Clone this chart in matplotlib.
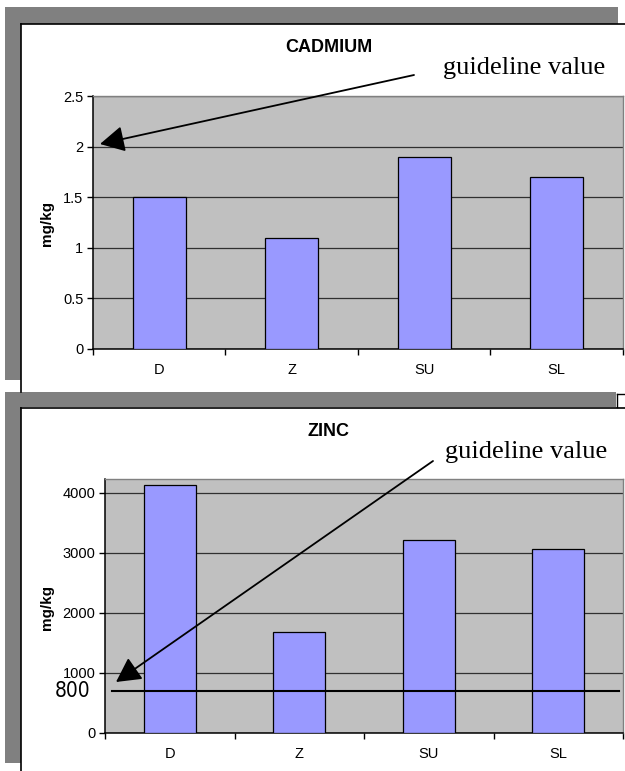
import matplotlib
matplotlib.use("Agg")
import matplotlib.pyplot as plt
from matplotlib.patches import Rectangle, FancyArrowPatch
from matplotlib.lines import Line2D

# ---- data ----
categories = ["D", "Z", "SU", "SL"]
cadmium = [1.5, 1.1, 1.9, 1.7]
zinc = [4130, 1680, 3210, 3060]
cad_yticks = [0, 0.5, 1, 1.5, 2, 2.5]
cad_ytick_labels = ["0", "0.5", "1", "1.5", "2", "2.5"]
zinc_yticks = [0, 1000, 2000, 3000, 4000]
zinc_ytick_labels = ["0", "1000", "2000", "3000", "4000"]
zinc_guideline_drawn = 700
zinc_guideline_label = "800"

W, H = 625, 771
fig = plt.figure(figsize=(W / 100, H / 100), dpi=100)
fig.patch.set_facecolor("white")

SANS = ["Liberation Sans", "DejaVu Sans"]
SERIF = ["Liberation Serif", "DejaVu Serif"]


def fx(x):
    return x / W


def fy(y):
    return 1 - y / H


def rect(x0, y0, x1, y1, color):
    fig.add_artist(Rectangle((fx(x0), fy(y1)), (x1 - x0) / W, (y1 - y0) / H,
                             transform=fig.transFigure, facecolor=color,
                             edgecolor="none", zorder=0))


def line(x0, y0, x1, y1, color="black", lw=1.2):
    fig.add_artist(Line2D([fx(x0), fx(x1)], [fy(y0), fy(y1)],
                          transform=fig.transFigure, color=color, lw=lw, zorder=1))


def axes_px(x0, y0, x1, y1):
    return fig.add_axes([fx(x0), fy(y1), (x1 - x0) / W, (y1 - y0) / H])


GRAY = "#808080"
# top frame
rect(5, 7, 618, 24, GRAY)
rect(5, 7, 21, 380, GRAY)
line(21, 24, 625, 24)
line(21, 24, 21, 392)
# bottom frame
rect(5, 392, 616, 407, GRAY)
rect(5, 392, 21, 763, GRAY)
line(21, 408, 625, 408)
line(21, 408, 21, 771)
line(617, 394, 625, 394, lw=1)
line(617, 394, 617, 407, lw=1)


def style_axes(ax, ymax, yticks, ylabels):
    ax.set_facecolor("#C0C0C0")
    ax.set_xlim(-0.5, 3.5)
    ax.set_ylim(0, ymax)
    ax.set_yticks(yticks)
    ax.set_yticklabels(ylabels, fontfamily=SANS, fontsize=10.5)
    ax.set_xticks([-0.5, 0.5, 1.5, 2.5, 3.5])
    ax.set_xticklabels([])
    ax.set_xticks(range(len(categories)), minor=True)
    ax.set_xticklabels(categories, minor=True, fontfamily=SANS, fontsize=10.5)
    ax.tick_params(axis="y", direction="out", length=4, width=1, pad=3, color="black")
    ax.tick_params(axis="x", which="major", direction="out", length=4, width=1, color="black")
    ax.tick_params(axis="x", which="minor", length=0, pad=10)
    ax.yaxis.grid(True, color="#303030", lw=0.9)
    ax.set_axisbelow(True)
    for s in ["left", "bottom"]:
        ax.spines[s].set_color("black")
        ax.spines[s].set_linewidth(1.1)
    for s in ["top", "right"]:
        ax.spines[s].set_color(GRAY)
        ax.spines[s].set_linewidth(1)


ARROW = "-|>,head_length=15,head_width=8"

# ---- CADMIUM ----
ax1 = axes_px(93, 96, 623, 349)
style_axes(ax1, 2.5, cad_yticks, cad_ytick_labels)
ax1.bar(range(len(categories)), cadmium, width=0.4, color="#9999FF",
        edgecolor="black", lw=0.9, zorder=3)
fig.text(fx(329), fy(48), "CADMIUM", fontfamily=SANS, fontweight="bold",
         fontsize=13, ha="center", va="center")
fig.text(fx(47), fy(223), "mg/kg", fontfamily=SANS, fontweight="bold",
         fontsize=11, rotation=90, ha="center", va="center")
fig.text(fx(524), fy(68), "guideline value", fontfamily=SERIF, fontsize=19,
         ha="center", va="center")
fig.add_artist(FancyArrowPatch((fx(414), fy(75)), (fx(100), fy(144)),
                               transform=fig.transFigure, arrowstyle=ARROW,
                               mutation_scale=1, color="black", lw=1.3,
                               shrinkA=0, shrinkB=0, zorder=10))

# ---- ZINC ----
ax2 = axes_px(105, 479, 623, 733)
style_axes(ax2, 4230, zinc_yticks, zinc_ytick_labels)
ax2.bar(range(len(categories)), zinc, width=0.4, color="#9999FF",
        edgecolor="black", lw=0.9, zorder=3)
ax2.axhline(zinc_guideline_drawn, xmin=0.013, xmax=0.992, color="black",
            lw=1.5, zorder=4)
fig.text(fx(73), fy(691), zinc_guideline_label,
         fontfamily=["DejaVu Sans"], fontstretch="condensed", fontsize=15,
         ha="center", va="center")
fig.text(fx(329), fy(432), "ZINC", fontfamily=SANS, fontweight="bold",
         fontsize=13, ha="center", va="center")
fig.text(fx(47), fy(608), "mg/kg", fontfamily=SANS, fontweight="bold",
         fontsize=11, rotation=90, ha="center", va="center")
fig.text(fx(526), fy(452), "guideline value", fontfamily=SERIF, fontsize=19,
         ha="center", va="center")
fig.add_artist(FancyArrowPatch((fx(433), fy(461)), (fx(116), fy(682)),
                               transform=fig.transFigure, arrowstyle=ARROW,
                               mutation_scale=1, color="black", lw=1.3,
                               shrinkA=0, shrinkB=0, zorder=10))

fig.savefig("out.png", dpi=100)
